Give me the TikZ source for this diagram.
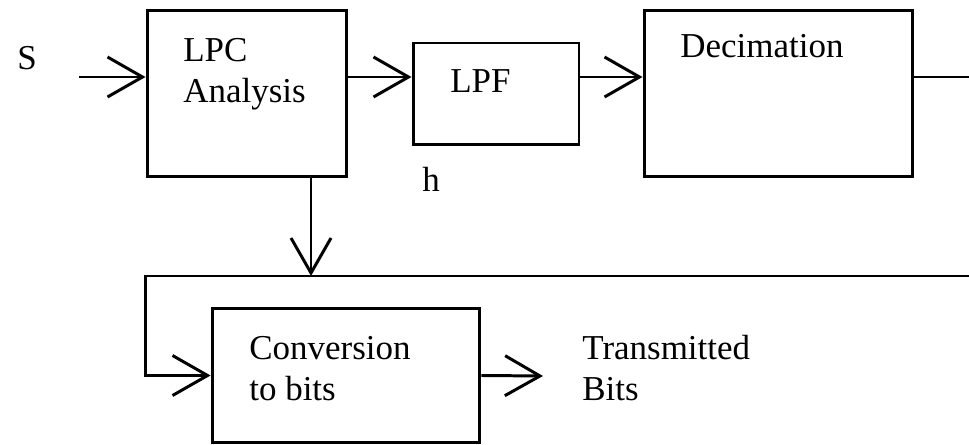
\documentclass[tikz,border=0pt]{standalone}
\usepackage{fontspec}
\setmainfont{Liberation Serif}
\usetikzlibrary{arrows.meta,calc}

\begin{document}
\begin{tikzpicture}[x=0.02cm,y=0.02cm,
    blk/.style={draw,line width=1.7pt,inner sep=0pt},
    lbl/.style={inner sep=0pt,align=left,font=\fontsize{19.9}{23.4}\selectfont},
    wire/.style={line width=1.7pt},
    sig/.style={wire,-{Straight Barb[length=7mm,width=8mm]}}]
  \useasboundingbox (0,0) rectangle (969,-445);
  % blocks
  \node[blk,minimum width=4cm,minimum height=3.34cm] (lpc) at (247,-93.5) {};
  \node[blk,minimum width=3.32cm,minimum height=2.04cm] (lpf) at (496,-94) {};
  \node[blk,minimum width=5.38cm,minimum height=3.34cm] (dec) at (778.5,-93.5) {};
  \node[blk,minimum width=5.36cm,minimum height=2.7cm] (conv) at (346,-375.5) {};
  % texts
  \node[lbl,anchor=base west] (s) at (17,-70) {S};
  \node[lbl,anchor=north west] (lpctxt) at (183,-38) {LPC\\Analysis};
  \node[lbl,anchor=base west] (lpftxt) at (450,-93) {LPF};
  \node[lbl,anchor=base west] (h) at (422,-192) {h};
  \node[lbl,anchor=base west] (dectxt) at (680,-58) {Decimation};
  \node[lbl,anchor=north west] (convtxt) at (249,-336) {Conversion\\to bits};
  \node[lbl,anchor=north west] (bits) at (582,-335) {Transmitted\\Bits};
  % free ends
  \coordinate (sin) at (79,-77);
  \coordinate (out) at (969,-77);
  \coordinate (ret) at (969,-276);
  \coordinate (tap) at (311,-276);
  \coordinate (tx) at (543,-376);
  % signal path
  \draw[sig] (sin) -- (sin -| lpc.west);
  \draw[sig] (sin -| lpc.east) -- (sin -| lpf.west);
  \draw[sig] (sin -| lpf.east) -- (sin -| dec.west);
  \draw[wire] (sin -| dec.east) -- (out);
  \draw[sig] (lpc.south -| tap) -- (tap);
  \draw[sig] (ret) -- (ret -| lpc.west) |- (conv.west);
  \draw[sig] (conv.east) -- (tx);
\end{tikzpicture}
\end{document}
